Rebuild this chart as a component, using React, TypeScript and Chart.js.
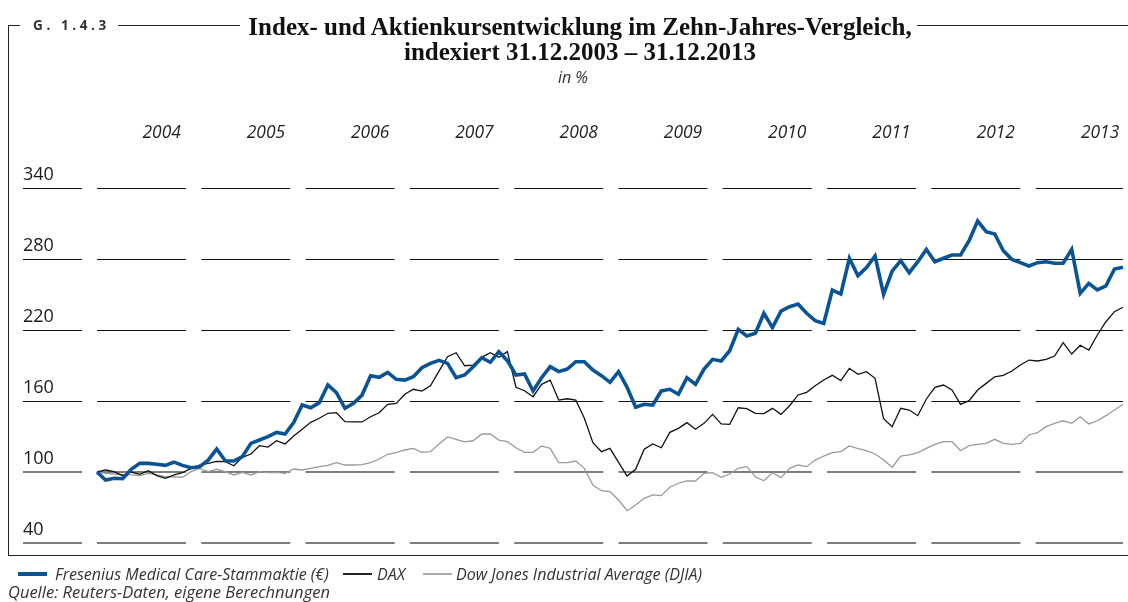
import React, { useEffect, useRef } from 'react';
import { Chart, registerables } from 'chart.js';

Chart.register(...registerables);

// ---------- DATA ----------
const monthLabels: string[] = [];
for (let y = 2003; y <= 2013; y++) {
  for (let m = 1; m <= 12; m++) {
    if (y === 2003 && m < 12) continue;
    monthLabels.push(`${String(m).padStart(2, '0')}/${y}`);
  }
}

const yearLabels = ['2004', '2005', '2006', '2007', '2008', '2009', '2010', '2011', '2012', '2013'];
const yTicks = [40, 100, 160, 220, 280, 340];

const fresenius = [
  100, 93.2, 94.7, 94.3, 102.3, 107.3, 107.3, 106.5, 105.6, 108.4, 105.6, 103.6,
  104.5, 110, 119.4, 109.5, 109.3, 112.9, 124.2, 127, 129.9, 133.5, 132.1, 141.7,
  156.6, 154.3, 158.6, 173.5, 167, 153.8, 158, 165, 181.4, 180, 184.2, 178.3,
  177.7, 180.5, 188.1, 191.8, 194.4, 191.8, 179.7, 182, 189, 196.6, 192.7, 201.7,
  194.1, 182, 182.8, 168.5, 179.7, 189, 184.8, 187, 193.2, 193.2, 186.2, 181.4,
  175.8, 184.8, 171.6, 154.7, 157.2, 156.6, 168.5, 169.9, 165.7, 179.7, 174.1, 187,
  195.2, 193.8, 202.5, 220.6, 214.9, 217.2, 234.1, 222, 236, 239.7, 242, 234.1,
  227.9, 225.6, 253.8, 250.4, 280.6, 265.9, 272.7, 282.5, 250.1, 269.8, 278.6, 268.4,
  277.7, 288.1, 277.7, 280.6, 283.4, 283.4, 295.4, 312.1, 303.1, 301.1, 287, 279.7,
  276.9, 274.1, 276.9, 277.7, 276.4, 276.4, 288.1, 251, 259.4, 253.8, 257.2, 271.5,
  273,
];

const dax = [
  100, 101.7, 100.3, 96.9, 100, 98, 101.1, 96.9, 94.7, 97.5, 99.4, 103.1,
  105.9, 107.3, 109, 108.7, 105.3, 112.4, 115.2, 122.2, 121.1, 126.4, 123.7, 130.4,
  136.1, 142, 145.4, 149.6, 150.1, 142.5, 142.3, 142.3, 146.7, 150.1, 157.2, 158,
  165.7, 169.9, 168.4, 172.9, 185.3, 197.4, 200.8, 189.8, 190.4, 196.9, 200.8, 196.9,
  201.7, 171.6, 168.7, 163.6, 174.1, 177.7, 160.8, 161.9, 160.8, 145.4, 124.8, 117.2,
  120, 108.2, 96.6, 102.3, 119.2, 123.7, 120.5, 133.5, 136.9, 141.7, 136.1, 141.1,
  148.7, 140.6, 140.3, 154.3, 153.5, 149.5, 149.3, 153.8, 148.7, 156, 165.1, 167.3,
  172.9, 177.7, 181.7, 177.2, 187.6, 182.6, 184.8, 179.2, 145.1, 138.3, 153.8, 152.4,
  147.6, 161.7, 171.6, 173.5, 169.3, 157.2, 160.3, 169.3, 174.9, 180.5, 181.7, 185.3,
  190.4, 194.6, 193.8, 195.2, 198, 209.3, 199.7, 207.1, 203.1, 215.8, 227, 235.5,
  239.2,
];

const djia = [
  100, 98.9, 98.3, 97.5, 97.5, 96.9, 98.9, 97.5, 96, 96, 95.5, 100.3,
  103.1, 100.3, 102.3, 100.3, 97.5, 99.7, 97.5, 100.3, 99.4, 99.7, 98.9, 102.5,
  101.7, 103.1, 104.5, 105.6, 107.9, 105.9, 105.9, 106.2, 107.9, 111, 115, 116.3,
  118.6, 120, 116.6, 117.2, 123.7, 129.6, 127.6, 125.4, 126.4, 132.1, 132.1, 127,
  125.6, 120.5, 116.6, 116.6, 122, 120, 107.9, 107.9, 109.3, 103.1, 89, 84.2,
  83.4, 76.3, 67.3, 72.1, 77.8, 80.6, 80, 87.1, 90.5, 92.4, 92.4, 98.9,
  99.4, 95.5, 98.3, 103.1, 104.5, 96, 92.6, 99.4, 95.2, 103.1, 105.9, 104.5,
  110.1, 113.5, 116.3, 117.2, 122, 119.7, 118, 115.2, 110.1, 104, 113.5, 114.4,
  116.3, 120, 123.4, 125.6, 125.6, 118, 122.2, 123.4, 124.2, 127.6, 124.2, 123.4,
  124.2, 131.3, 133.2, 138.3, 141.1, 143.3, 141.1, 146.7, 140.6, 143.3, 147.6, 152.4,
  157.2,
];

const seriesNames = [
  'Fresenius Medical Care-Stammaktie (€)',
  'DAX',
  'Dow Jones Industrial Average (DJIA)',
];
const seriesColors = ['#0a5496', '#111111', '#9a9a9a'];

// ---------- STYLE ----------
const SANS = '"Open Sans", "Noto Sans", sans-serif';
const SERIF = '"Liberation Serif", "DejaVu Serif", serif';
const YEAR_AXIS_MAX = 9.84; // year-segment units across plot width
const YEAR_LABEL_POS = 0.62;

export default function App() {
  const ref = useRef<HTMLCanvasElement | null>(null);

  useEffect(() => {
    if (!ref.current) return;
    const noPad = (scale: any) => {
      scale.paddingLeft = 0;
      scale.paddingRight = 0;
      scale.paddingTop = 0;
      scale.paddingBottom = 0;
    };
    const chart = new Chart(ref.current, {
      type: 'line',
      data: {
        labels: monthLabels,
        datasets: [
          {
            label: seriesNames[0],
            data: fresenius,
            borderColor: seriesColors[0],
            borderWidth: 3.6,
            pointRadius: 0,
            tension: 0,
            clip: false as any,
            xAxisID: 'x',
            yAxisID: 'y',
          },
          {
            label: seriesNames[1],
            data: dax,
            borderColor: seriesColors[1],
            borderWidth: 1.3,
            pointRadius: 0,
            tension: 0,
            clip: false as any,
            xAxisID: 'x',
            yAxisID: 'y',
          },
          {
            label: seriesNames[2],
            data: djia,
            borderColor: seriesColors[2],
            borderWidth: 1.3,
            pointRadius: 0,
            tension: 0,
            clip: false as any,
            xAxisID: 'x',
            yAxisID: 'y',
          },
        ],
      },
      options: {
        animation: false,
        responsive: false,
        devicePixelRatio: 1,
        layout: { padding: { left: 23, right: 5, top: 0, bottom: 59 } },
        plugins: {
          legend: { display: false },
          tooltip: { enabled: false },
        },
        scales: {
          x: {
            type: 'category',
            display: false,
            offset: false,
            afterFit: noPad,
          },
          xYear: {
            type: 'linear',
            position: 'top',
            min: 0,
            max: YEAR_AXIS_MAX,
            grid: { display: false, drawTicks: false },
            border: { display: false },
            afterBuildTicks: (scale: any) => {
              scale.ticks = yearLabels.map((_, k) => ({ value: k + YEAR_LABEL_POS }));
            },
            afterFit: (scale: any) => {
              scale.height = 188;
              noPad(scale);
            },
            ticks: {
              autoSkip: false,
              maxRotation: 0,
              padding: 45,
              color: '#222',
              font: { family: SANS, size: 17.4, style: 'italic' },
              callback: (_v: any, i: number) => yearLabels[i],
            },
          },
          y: {
            type: 'linear',
            position: 'left',
            min: yTicks[0],
            max: yTicks[yTicks.length - 1],
            afterBuildTicks: (scale: any) => {
              scale.ticks = yTicks.map((v) => ({ value: v }));
            },
            afterFit: (scale: any) => {
              scale.width = 74;
              noPad(scale);
            },
            ticks: {
              crossAlign: 'far',
              labelOffset: -13,
              padding: 0,
              color: '#1a1a1a',
              font: { family: SANS, size: 18 },
              callback: (v: any) => String(v),
            },
            grid: {
              color: (ctx: any) => (ctx.tick && ctx.tick.value <= 100 ? '#7d7d7d' : '#111'),
              lineWidth: (ctx: any) => (ctx.tick && ctx.tick.value <= 100 ? 2 : 1),
              tickColor: (ctx: any) => (ctx.tick && ctx.tick.value <= 100 ? '#7d7d7d' : '#111'),
              tickWidth: (ctx: any) => (ctx.tick && ctx.tick.value <= 100 ? 2 : 1),
              tickLength: 74,
              tickBorderDash: [59, 200],
            },
            border: { display: false, dash: [89, 15.3] },
          },
        },
      } as any,
    });
    return () => chart.destroy();
  }, []);

  const line = (left: number, top: number, width: number, height: number, color = '#222') => (
    <div style={{ position: 'absolute', left, top, width, height, background: color }} />
  );

  const textStyle = (left: number, top: number, size: number): React.CSSProperties => ({
    position: 'absolute',
    left,
    top,
    fontFamily: SANS,
    fontStyle: 'italic',
    fontSize: size,
    lineHeight: '20px',
    color: '#333',
    whiteSpace: 'nowrap',
  });

  const legendItem = (x: number, lineW: number, color: string, thick: number, text: string, textX: number) => (
    <>
      <div style={{ position: 'absolute', left: x, top: 574 - thick / 2, width: lineW, height: thick, background: color }} />
      <div style={textStyle(textX, 564, 16)}>{text}</div>
    </>
  );

  return (
    <div style={{ position: 'absolute', left: 0, top: 0, width: 1128, height: 602, background: '#fff', overflow: 'hidden' }}>
      <canvas ref={ref} width={1128} height={602} style={{ position: 'absolute', left: 0, top: 0, width: 1128, height: 602 }} />
      {/* frame */}
      {line(8, 25, 1.3, 531)}
      {line(8, 555, 1120, 1.3)}
      {line(8, 25, 12, 1.3)}
      {line(118, 25, 122, 1.3)}
      {line(917, 25, 211, 1.3)}
      <div
        style={{
          position: 'absolute',
          left: 33,
          top: 16,
          fontFamily: SANS,
          fontWeight: 700,
          fontSize: 13.5,
          lineHeight: '18px',
          letterSpacing: '3.6px',
          color: '#333',
          whiteSpace: 'nowrap',
        }}
      >
        G. 1.4.3
      </div>
      <div
        style={{
          position: 'absolute',
          left: 230,
          top: 14,
          width: 700,
          textAlign: 'center',
          fontFamily: SERIF,
          fontWeight: 'bold',
          fontSize: 25,
          lineHeight: '25px',
          color: '#111',
        }}
      >
        Index- und Aktienkursentwicklung im Zehn-Jahres-Vergleich,
        <br />
        indexiert 31.12.2003 – 31.12.2013
      </div>
      <div style={{ ...textStyle(473, 67, 16), width: 200, textAlign: 'center' }}>in %</div>
      {legendItem(18, 29, seriesColors[0], 4, seriesNames[0], 55)}
      {legendItem(343, 29, '#222', 2, seriesNames[1], 377)}
      {legendItem(423, 29, '#a8a8a8', 2, seriesNames[2], 456)}
      <div style={textStyle(8, 582, 16.5)}>Quelle: Reuters-Daten, eigene Berechnungen</div>
    </div>
  );
}
